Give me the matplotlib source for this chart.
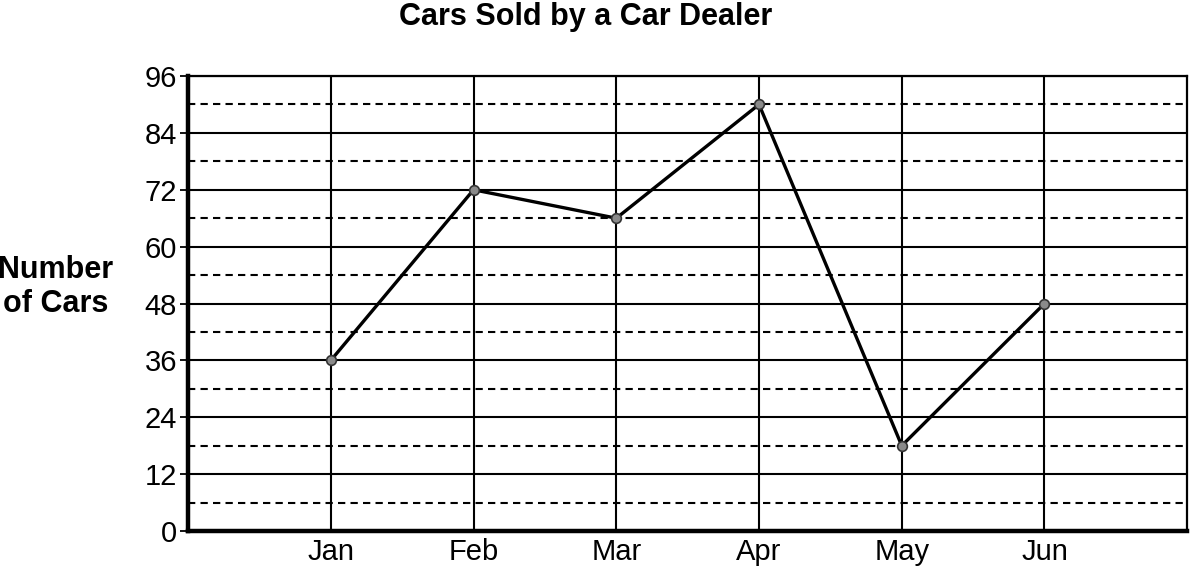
import numpy as np
import matplotlib.pyplot as plt
from matplotlib.ticker import MultipleLocator

# Data
months = ["Jan", "Feb", "Mar", "Apr", "May", "Jun"]
cars_sold = [36, 72, 66, 90, 18, 48]
y_ticks = [0, 12, 24, 36, 48, 60, 72, 84, 96]

plt.rcParams['font.family'] = ['Liberation Sans', 'DejaVu Sans']

fig = plt.figure(figsize=(11.98, 5.82), dpi=100)
ax = fig.add_axes([0.157, 0.0876, 0.834, 0.7818])

x = np.arange(1, len(months) + 1)
ax.plot(x, cars_sold, color="black", linewidth=2.4, marker="o",
        markersize=7, markerfacecolor="#8a8a8a", markeredgecolor="#333333",
        markeredgewidth=1.2, zorder=5)

ax.set_xlim(0, 7)
ax.set_ylim(0, 96)
ax.set_xticks(x)
ax.set_xticklabels(months)
ax.set_yticks(y_ticks)
ax.yaxis.set_minor_locator(MultipleLocator(6))

# Grid: solid on majors, dashed on the halfway lines
ax.grid(which="major", axis="y", color="black", linewidth=1.5)
ax.grid(which="minor", axis="y", color="black", linewidth=1.5,
        linestyle=(0, (3.5, 2.5)))
ax.grid(which="major", axis="x", color="black", linewidth=1.5)
ax.set_axisbelow(True)

ax.tick_params(axis="y", which="major", length=6, width=1.3,
               labelsize=21, pad=2)
ax.tick_params(axis="y", which="minor", length=0)
ax.tick_params(axis="x", length=0, labelsize=21, pad=5)

for side in ["left", "bottom"]:
    ax.spines[side].set_linewidth(3.2)
for side in ["top", "right"]:
    ax.spines[side].set_linewidth(1.6)

# Title and y label
fig.text(586 / 1198, 1 - 17 / 582, "Cars Sold by a Car Dealer",
         ha="center", va="center", fontsize=22, fontweight="bold")
fig.text(56 / 1198, 1 - 287 / 582, "Number\nof Cars", ha="center",
         va="center", multialignment="center", fontsize=22,
         fontweight="bold", linespacing=1.2)

plt.savefig("out.png", dpi=100)
